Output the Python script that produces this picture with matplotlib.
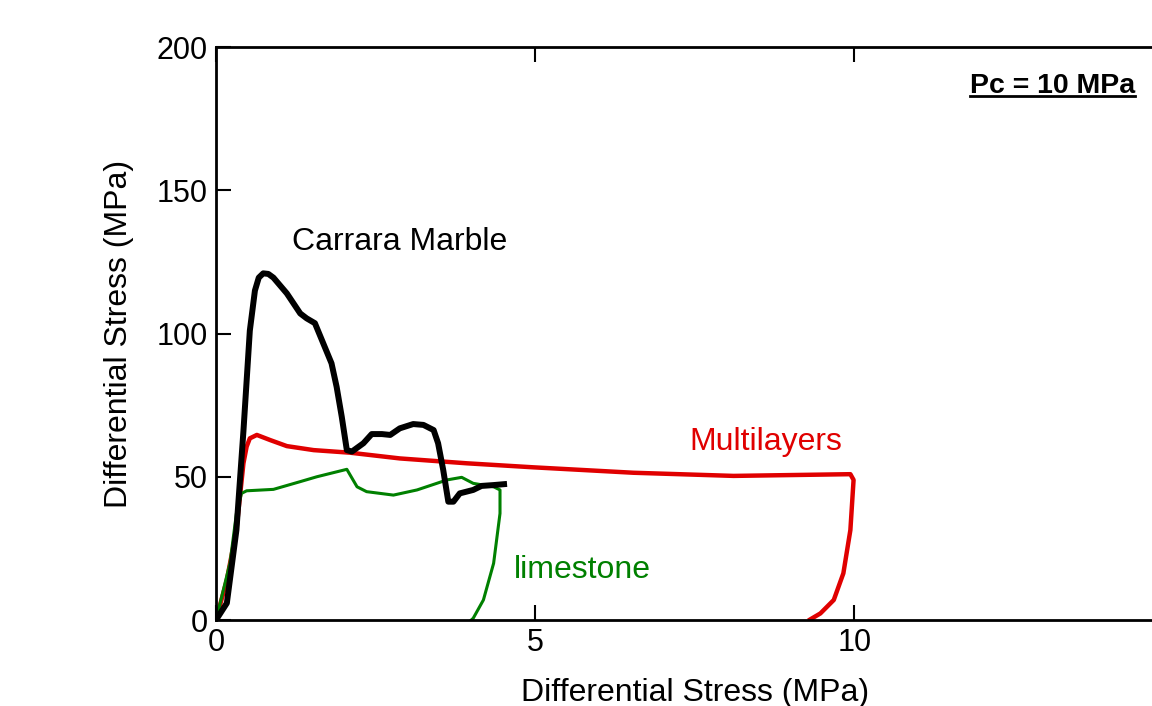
import numpy as np
import matplotlib
matplotlib.use("Agg")
import matplotlib.pyplot as plt
from matplotlib.lines import Line2D

plt.rcParams['font.family'] = ['Liberation Sans', 'DejaVu Sans']

# Carrara Marble (strain, differential stress)
marble_x = [0.0, 0.17, 0.32, 0.43, 0.53, 0.61, 0.67, 0.74, 0.82, 0.90, 1.11, 1.32, 1.42, 1.55,
            1.68, 1.81, 1.89, 1.97, 2.05, 2.13, 2.31, 2.44, 2.60, 2.73, 2.88, 3.09,
            3.25, 3.41, 3.48, 3.56, 3.64, 3.72, 3.82, 4.03, 4.16, 4.35, 4.56]
marble_y = [0.0, 5.9, 31.4, 66.0, 101.0, 115.0, 119.5, 121.0, 120.8, 119.5, 114.0, 107.0, 105.3, 103.6,
            96.6, 89.6, 81.4, 71.0, 59.3, 58.8, 61.7, 64.9, 64.9, 64.6, 66.9, 68.4,
            68.1, 66.3, 61.7, 52.4, 41.3, 41.3, 44.2, 45.4, 46.8, 47.1, 47.5]

# Multilayers
multi_x = [0.0, 0.17, 0.32, 0.43, 0.48, 0.53, 0.64, 0.85, 1.11, 1.53, 2.10, 2.88, 3.93,
           4.97, 6.54, 8.11, 9.94, 9.99, 9.94, 9.83, 9.68, 9.47, 9.31]
multi_y = [0.0, 14.0, 31.4, 54.7, 60.5, 63.4, 64.6, 62.8, 60.7, 59.3, 58.4, 56.4, 54.7,
           53.3, 51.4, 50.3, 50.9, 48.9, 31.4, 16.3, 7.0, 2.3, 0.2]

# limestone
lime_x = [0.0, 0.22, 0.32, 0.40, 0.48, 0.90, 1.32, 1.58, 2.05, 2.21, 2.36, 2.78,
          3.15, 3.62, 3.85, 4.03, 4.35, 4.45, 4.45, 4.35, 4.19, 4.03, 4.0]
lime_y = [0.0, 20.0, 37.2, 44.2, 45.1, 45.6, 48.3, 50.0, 52.6, 46.5, 44.8, 43.6,
          45.4, 48.9, 49.8, 47.7, 46.5, 45.4, 37.2, 19.8, 7.0, 0.6, 0.0]

fig = plt.figure(figsize=(11.52, 7.06), dpi=100)
ax = fig.add_axes([0.1875, 0.1218, 0.831, 0.8116])

ax.plot(multi_x, multi_y, color='#e00000', lw=3.2, solid_joinstyle='round')
ax.plot(lime_x, lime_y, color='#008000', lw=2.2, solid_joinstyle='round')
ax.plot(marble_x, marble_y, color='black', lw=4.3, solid_joinstyle='round',
        solid_capstyle='butt')

ax.text(2.87, 132, 'Carrara Marble', fontsize=23, ha='center', va='center')
ax.text(8.62, 62, 'Multilayers', fontsize=23, ha='center', va='center', color='#e00000')
ax.text(5.74, 17.3, 'limestone', fontsize=23, ha='center', va='center', color='#008000')
pc = ax.text(11.82, 186.5, 'Pc = 10 MPa', fontsize=20.5, fontweight='bold',
             ha='left', va='center')

ax.set_xlim(0, 15)
ax.set_ylim(0, 200)
ax.set_xticks([0, 5, 10])
ax.set_yticks([0, 50, 100, 150, 200])
ax.tick_params(direction='in', length=11, width=1.5, labelsize=22, pad=6,
               top=True, right=True)
for s in ax.spines.values():
    s.set_linewidth(2.0)

ax.set_xlabel('Differential Stress (MPa)', fontsize=23, labelpad=14)
ax.set_ylabel('Differential Stress (MPa)', fontsize=23, labelpad=16)

# underline for the Pc label
fig.canvas.draw()
bb = pc.get_window_extent()
W, H = fig.bbox.width, fig.bbox.height
uy = (bb.y0 + 3) / H
fig.add_artist(Line2D([bb.x0 / W, bb.x1 / W], [uy, uy], color='black', lw=2.0))

fig.savefig('out.png', dpi=100)
